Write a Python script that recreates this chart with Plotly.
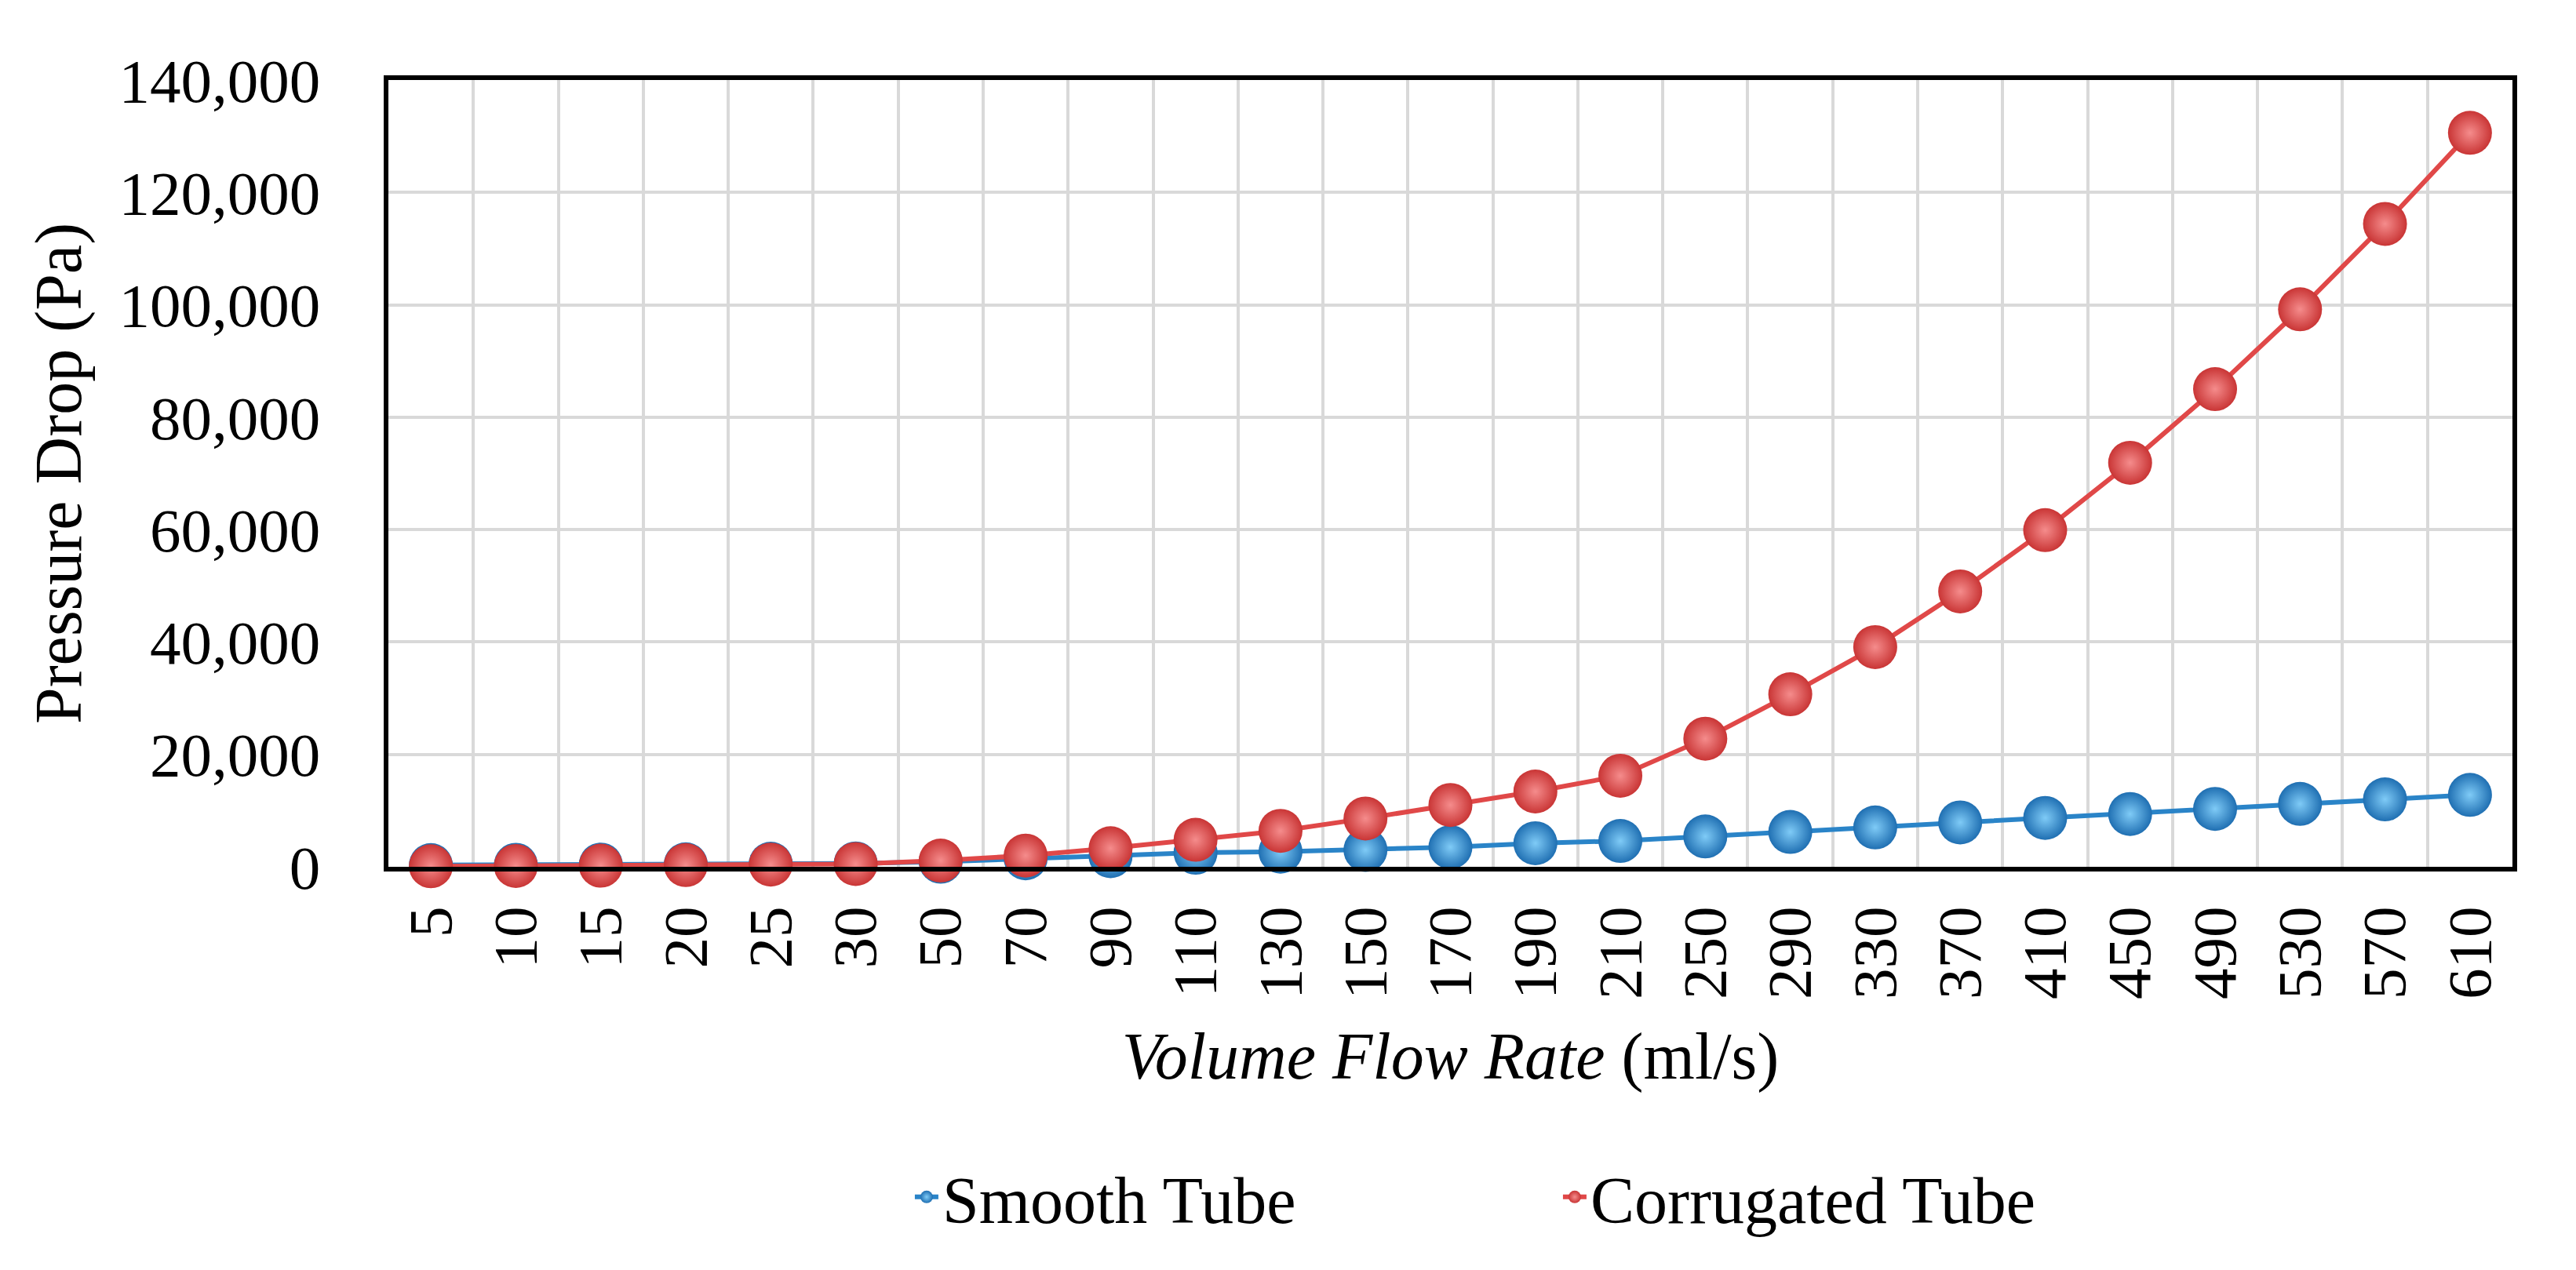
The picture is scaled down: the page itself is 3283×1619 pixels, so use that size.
import plotly.graph_objects as go

flow_rate = ["5", "10", "15", "20", "25", "30", "50", "70", "90", "110", "130", "150", "170",
             "190", "210", "250", "290", "330", "370", "410", "450", "490", "530", "570", "610"]
smooth_tube = [300, 350, 400, 450, 550, 600, 900, 1500, 1900, 2500, 2700, 3000, 3500,
               4200, 4600, 5400, 6200, 7000, 7900, 8700, 9400, 10300, 11200, 12000, 12800]
corrugated_tube = [100, 150, 200, 300, 400, 500, 1100, 2000, 3300, 4800, 6400, 8600, 11000,
                   13400, 16200, 22800, 30700, 39100, 49000, 59900, 71900, 85000, 99200, 114400, 130600]

FONT = "Liberation Serif, Times New Roman, serif"
BLUE = "#2A84C8"
RED = "#E04848"

fig = go.Figure()
fig.add_trace(go.Scatter(
    x=flow_rate, y=smooth_tube, name="Smooth Tube", mode="lines+markers",
    line=dict(color=BLUE, width=6),
    marker=dict(size=56, color="#1F6FB2", gradient=dict(type="radial", color="#7FCBF7"),
                line=dict(width=0)),
    cliponaxis=False,
))
fig.add_trace(go.Scatter(
    x=flow_rate, y=corrugated_tube, name="Corrugated Tube", mode="lines+markers",
    line=dict(color=RED, width=6),
    marker=dict(size=56, color="#C93535", gradient=dict(type="radial", color="#F58C8C"),
                line=dict(width=0)),
    cliponaxis=False,
))

fig.update_layout(
    width=3283, height=1619,
    margin=dict(l=487, r=89, t=94, b=522),
    paper_bgcolor="white", plot_bgcolor="white",
    font=dict(family=FONT, size=79, color="black"),
    showlegend=True,
    legend=dict(orientation="h", x=0.246, xanchor="left", y=-0.42, yanchor="middle",
                font=dict(family=FONT, size=84), itemsizing="trace", entrywidth=781,
                tracegroupgap=0),
    xaxis=dict(
        type="category", tickson="boundaries", range=[-0.5, len(flow_rate) - 0.5],
        showgrid=True, gridcolor="#D9D9D9", gridwidth=4,
        showline=True, linecolor="black", linewidth=6, mirror=True, ticks="",
        tickangle=-90, tickfont=dict(family=FONT, size=79), ticklabelstandoff=13,
        title=dict(text="<i>Volume Flow Rate</i> (ml/s)", font=dict(family=FONT, size=84), standoff=45),
        automargin=False,
    ),
    yaxis=dict(
        range=[0, 140000], dtick=20000, tickformat=",", showgrid=True, gridcolor="#D9D9D9", gridwidth=4,
        zeroline=False, showline=True, linecolor="black", linewidth=6, mirror=True, ticks="",
        tickfont=dict(family=FONT, size=79), ticklabelstandoff=65,
        title=dict(text="Pressure Drop (Pa)", font=dict(family=FONT, size=84), standoff=22),
        automargin=False,
    ),
)

fig.write_html("out.html")
